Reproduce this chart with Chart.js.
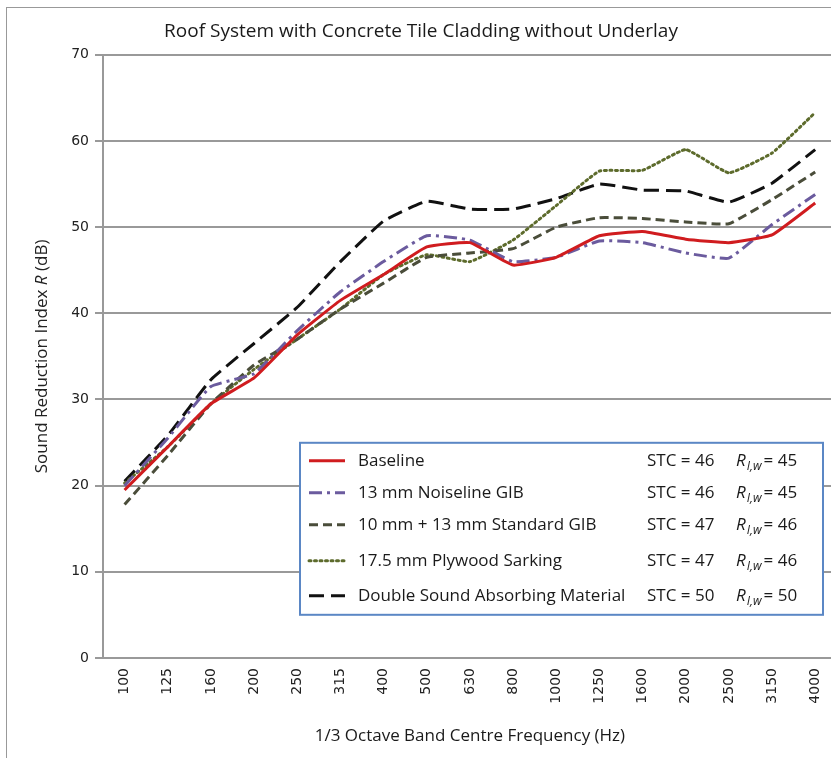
<!DOCTYPE html>
<html>
<head>
<meta charset="utf-8">
<script src="https://cdn.jsdelivr.net/npm/chart.js@4.4.1/dist/chart.umd.min.js"></script>
<style>
  html, body { margin: 0; padding: 0; width: 831px; height: 758px; overflow: hidden; background: #fff; }
  #wrap { position: absolute; left: 0; top: 0; width: 842px; height: 758px; }
  #frame { position: absolute; left: 6px; top: 7px; width: 900px; height: 800px;
           border-left: 1px solid #999; border-top: 1px solid #999; pointer-events: none; }
</style>
</head>
<body>
<div id="wrap"><canvas id="c" width="842" height="758"></canvas></div>
<div id="frame"></div>
<script>
// 1/3 octave band centre frequencies (Hz)
const freqs = ["100", "125", "160", "200", "250", "315", "400", "500", "630",
  "800", "1000", "1250", "1600", "2000", "2500", "3150", "4000"];

// sound reduction index R (dB)
const baseline   = [19.5, 24.5, 29.5, 32.5, 37.5, 41.5, 44.5, 47.7, 48.2, 45.6, 46.5, 49.0, 49.5, 48.6, 48.2, 49.1, 52.8];
const noiseline  = [20.0, 25.5, 31.5, 33.0, 38.0, 42.5, 46.0, 49.0, 48.5, 46.0, 46.5, 48.4, 48.2, 47.0, 46.4, 50.3, 53.8];
const standard   = [17.8, 23.5, 29.5, 34.0, 37.0, 40.5, 43.5, 46.5, 47.0, 47.5, 50.0, 51.1, 51.0, 50.6, 50.4, 53.2, 56.4];
const plywood    = [20.3, 24.5, 29.5, 33.5, 37.0, 40.5, 44.5, 46.8, 46.0, 48.5, 52.5, 56.5, 56.6, 59.0, 56.3, 58.6, 63.3];
const doubleAbs  = [20.5, 25.8, 32.3, 36.5, 40.7, 46.0, 50.7, 53.0, 52.1, 52.1, 53.3, 55.0, 54.3, 54.2, 52.9, 55.1, 59.0];

const names = ["Baseline", "13 mm Noiseline GIB", "10 mm + 13 mm Standard GIB",
  "17.5 mm Plywood Sarking", "Double Sound Absorbing Material"];
const stc = [46, 46, 47, 47, 50];
const rlw = [45, 45, 46, 46, 50];

const colors = ["#d01c1f", "#6b5b9e", "#4a4d3a", "#5d6b2c", "#111111"];
const dashes = [[], [13, 5, 3, 5], [9, 5], [2, 3.5], [15, 7]];
const caps = ["butt", "butt", "butt", "round", "butt"];

const SANS = "'Open Sans', sans-serif";

const sideTexts = {
  id: "sideTexts",
  afterDraw(chart) {
    const ctx = chart.ctx;
    const a = chart.chartArea;
    // y axis title with italic R
    ctx.save();
    ctx.translate(42, (a.top + a.bottom) / 2);
    ctx.rotate(-Math.PI / 2);
    ctx.fillStyle = "#222";
    ctx.textBaseline = "middle";
    const parts = [["Sound Reduction Index ", "17px " + SANS], ["R", "italic 17px " + SANS], [" (dB)", "17px " + SANS]];
    let w = 0;
    parts.forEach(p => { ctx.font = p[1]; w += ctx.measureText(p[0]).width; });
    let x = -w / 2;
    parts.forEach(p => { ctx.font = p[1]; ctx.fillText(p[0], x, 0); x += ctx.measureText(p[0]).width; });
    ctx.restore();
  },
  afterDatasetsDraw(chart) {
    const ctx = chart.ctx;
    const a = chart.chartArea;
    const bx = a.left + 197, by = a.top + 388, bw = 523, bh = 172;
    ctx.save();
    ctx.fillStyle = "#fff";
    ctx.fillRect(bx, by, bw, bh);
    ctx.strokeStyle = "#5b87c5";
    ctx.lineWidth = 2;
    ctx.strokeRect(bx, by, bw, bh);
    const rows = [18, 50, 82, 118, 153];
    names.forEach((n, i) => {
      const y = by + rows[i];
      ctx.strokeStyle = colors[i];
      ctx.lineWidth = 3;
      ctx.lineCap = caps[i];
      ctx.setLineDash(dashes[i]);
      ctx.beginPath();
      ctx.moveTo(bx + 9, y);
      ctx.lineTo(bx + 45, y);
      ctx.stroke();
      ctx.setLineDash([]);
      ctx.fillStyle = "#1a1a1a";
      ctx.textBaseline = "middle";
      ctx.font = "17px " + SANS;
      ctx.fillText(n, bx + 58, y);
      ctx.fillText("STC = " + stc[i], bx + 347, y);
      let x = bx + 436;
      ctx.font = "italic 17px " + SANS;
      ctx.fillText("R", x, y);
      x += ctx.measureText("R").width + 1;
      ctx.font = "italic 12px " + SANS;
      ctx.fillText("I,w", x, y + 6);
      x += ctx.measureText("I,w").width + 2;
      ctx.font = "17px " + SANS;
      ctx.fillText("= " + rlw[i], x, y);
    });
    ctx.restore();
  }
};

const seriesData = [baseline, noiseline, standard, plywood, doubleAbs];

new Chart(document.getElementById("c"), {
  type: "line",
  data: {
    labels: freqs,
    datasets: seriesData.map((d, i) => ({
      label: names[i],
      data: d,
      borderColor: colors[i],
      borderWidth: 3,
      borderDash: dashes[i],
      borderCapStyle: caps[i],
      pointRadius: 0,
      tension: 0.12,
      fill: false
    }))
  },
  options: {
    responsive: false,
    animation: false,
    layout: { padding: 0 },
    plugins: {
      legend: { display: false },
      tooltip: { enabled: false },
      title: {
        display: true,
        text: "Roof System with Concrete Tile Cladding without Underlay",
        color: "#1a1a1a",
        font: { family: SANS, size: 19, weight: "normal" },
        padding: { top: 20, bottom: 12 }
      }
    },
    scales: {
      x: {
        type: "category",
        offset: true,
        grid: { display: false, drawTicks: false },
        border: { display: true, color: "#999", width: 2 },
        ticks: {
          color: "#222",
          font: { family: "'DejaVu Sans', sans-serif", size: 14 },
          maxRotation: 90, minRotation: 90,
          padding: 10, autoSkip: false
        },
        title: {
          display: true,
          text: "1/3 Octave Band Centre Frequency (Hz)",
          color: "#1a1a1a",
          font: { family: SANS, size: 17 },
          padding: { top: 8, bottom: 12 }
        },
        afterFit: s => { s.height = 100; }
      },
      y: {
        min: 0, max: 70,
        ticks: {
          stepSize: 10,
          color: "#222",
          font: { family: "'DejaVu Sans', sans-serif", size: 14 },
          padding: 6
        },
        grid: { color: "#999", lineWidth: 2, tickLength: 8 },
        border: { display: true, color: "#999", width: 2 },
        afterFit: s => { s.width = 103; }
      }
    }
  },
  plugins: [sideTexts]
});
</script>
</body>
</html>
